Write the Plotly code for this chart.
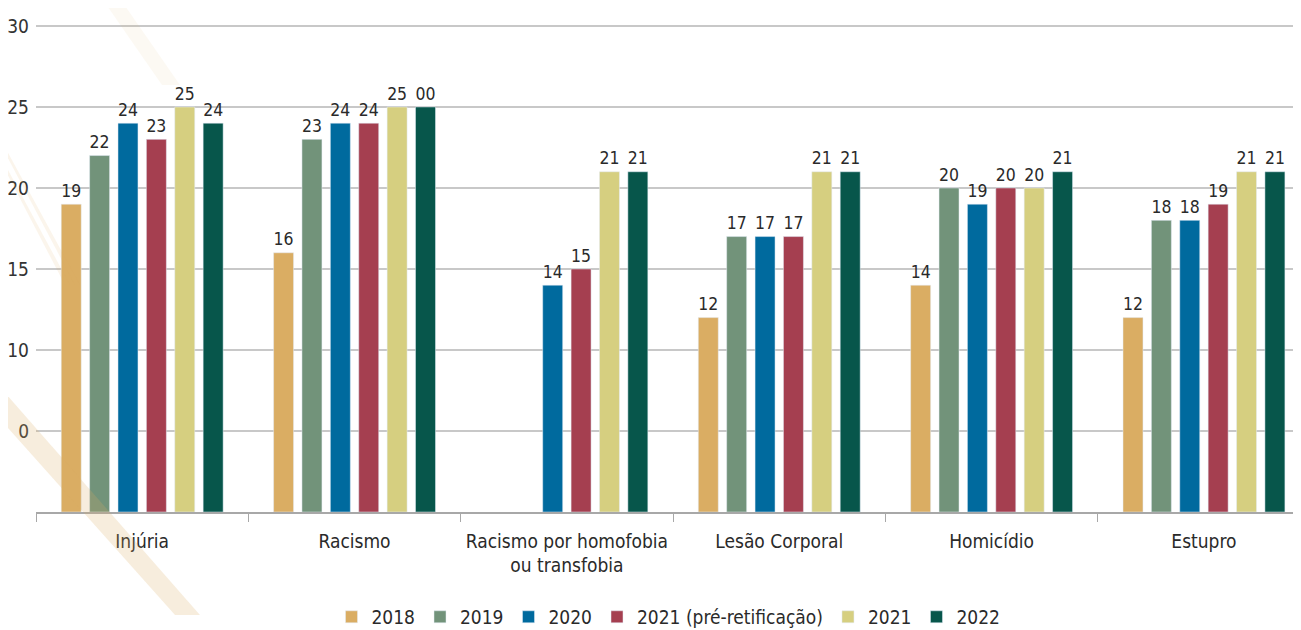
import plotly.graph_objects as go

categories = ["Injúria", "Racismo", "Racismo por homofobia<br>ou transfobia",
              "Lesão Corporal", "Homicídio", "Estupro"]
series_names = ["2018", "2019", "2020", "2021 (pré-retificação)", "2021", "2022"]
v2018 = [19, 16, None, 12, 14, 12]
v2019 = [22, 23, None, 17, 20, 18]
v2020 = [24, 24, 14, 17, 19, 18]
v2021_pre = [23, 24, 15, 17, 20, 19]
v2021 = [25, 25, 21, 21, 20, 21]
v2022 = [24, 25, 21, 21, 21, 21]
# the source chart prints "00" over the Racismo 2022 bar
labels2022 = ["24", "00", "21", "21", "21", "21"]
tick_vals = [5, 10, 15, 20, 25, 30]
tick_text = ["0", "10", "15", "20", "25", "30"]

colors = ["#DAAD63", "#72937A", "#006A9E", "#A53F50", "#D6CF80", "#07564B"]
all_values = [v2018, v2019, v2020, v2021_pre, v2021, v2022]

FONT = "DejaVu Sans Condensed, Roboto, sans-serif"

fig = go.Figure()
for name, vals, col in zip(series_names, all_values, colors):
    if name == "2022":
        txt = labels2022
    else:
        txt = ["" if v is None else str(v) for v in vals]
    fig.add_trace(go.Bar(
        x=categories, y=vals, name=name, marker_color=col,
        text=txt, textposition="outside", cliponaxis=False,
        textfont=dict(size=20, color="#2a2a2a", family=FONT),
    ))

# page body has an 8px margin, so the figure sits at (8, 8)
OX, OY = 36, 512
W, H = 1265, 488

def to_paper(x, y):
    return f"{(x - OX) / W:.4f},{(OY - y) / H:.4f}"

# faint decorative diagonal stripes from the original artwork
stripes = [
    ([(0, 387), (0, 419), (175, 615), (200, 615)], "rgba(218,173,99,0.22)"),
    ([(0, 138), (0, 143), (75, 285), (80, 285)], "rgba(218,173,99,0.12)"),
    ([(0, 155), (0, 160), (65, 285), (70, 285)], "rgba(218,173,99,0.12)"),
    ([(103, 0), (121, 0), (180, 85), (162, 85)], "rgba(218,173,99,0.08)"),
]
for pts, fill in stripes:
    path = "M " + " L ".join(to_paper(x, y) for x, y in pts) + " Z"
    fig.add_shape(type="path", path=path, xref="paper", yref="paper",
                  fillcolor=fill, line_width=0, layer="above")

fig.update_layout(
    width=1293, height=622,
    margin=dict(l=28, r=0, t=16, b=118, autoexpand=False),
    paper_bgcolor="white", plot_bgcolor="white",
    barmode="group", bargap=0.198, bargroupgap=0.296,
    font=dict(family=FONT, size=18, color="#333333"),
    showlegend=True,
    legend=dict(orientation="h", x=0.5, xanchor="center",
                yref="container", y=0.021, yanchor="middle",
                font=dict(size=19, color="#2a2a2a"), itemwidth=30,
                traceorder="normal"),
    xaxis=dict(range=[-0.5, 5.457], showline=True, linecolor="#a8a8a8", linewidth=1.5,
               ticks="outside", tickson="boundaries", ticklen=8, tickcolor="#a8a8a8",
               ticklabelstandoff=11,
               tickfont=dict(size=19, color="#2a2a2a")),
    yaxis=dict(range=[0, 30.12], tickvals=tick_vals, ticktext=tick_text,
               showgrid=True, gridcolor="#c8c8c8", gridwidth=1.5,
               zeroline=False, ticks="", ticklabelstandoff=6,
               tickfont=dict(size=19, color="#333333")),
)

fig.write_html("out.html")
